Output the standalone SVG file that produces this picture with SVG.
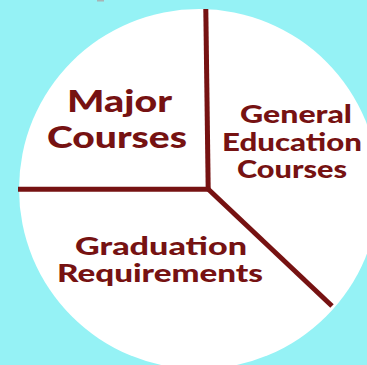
<svg xmlns="http://www.w3.org/2000/svg" width="367" height="365" viewBox="0 0 367 365">
  <style>
    .lbl { font-family: Lato, "DejaVu Sans", "Liberation Sans", sans-serif; font-weight: 900; fill: #761212; text-anchor: middle; }
    .div { stroke: #761212; stroke-width: 5; fill: none; stroke-linecap: butt; }
  </style>
  <rect x="0" y="0" width="367" height="365" fill="#95F2F5"/>
  <rect x="97" y="0" width="7" height="1.5" fill="#A8B4B6"/>
  <g id="pie">
    <circle cx="199" cy="189" r="180" fill="#FFFFFF"/>
  </g>
  <g id="connectors">
    <line class="div" x1="205.8" y1="9" x2="208.2" y2="189"/>
    <line class="div" x1="18" y1="189.3" x2="208.2" y2="189.3"/>
    <line class="div" x1="207" y1="188" x2="332" y2="306"/>
  </g>
  <g id="major">
    <text class="lbl" x="119.5" y="112" font-size="30" textLength="105" lengthAdjust="spacingAndGlyphs">Major</text>
    <text class="lbl" x="117" y="148" font-size="30" textLength="140" lengthAdjust="spacingAndGlyphs">Courses</text>
  </g>
  <g id="general">
    <text class="lbl" x="296" y="123" font-size="24" textLength="112" lengthAdjust="spacingAndGlyphs">General</text>
    <text class="lbl" x="292" y="151" font-size="24" textLength="140" lengthAdjust="spacingAndGlyphs">Education</text>
    <text class="lbl" x="292" y="178" font-size="24" textLength="110" lengthAdjust="spacingAndGlyphs">Courses</text>
  </g>
  <g id="graduation">
    <text class="lbl" x="161" y="255" font-size="25" textLength="172" lengthAdjust="spacingAndGlyphs">Graduation</text>
    <text class="lbl" x="160" y="282" font-size="25" textLength="206" lengthAdjust="spacingAndGlyphs">Requirements</text>
  </g>
</svg>
